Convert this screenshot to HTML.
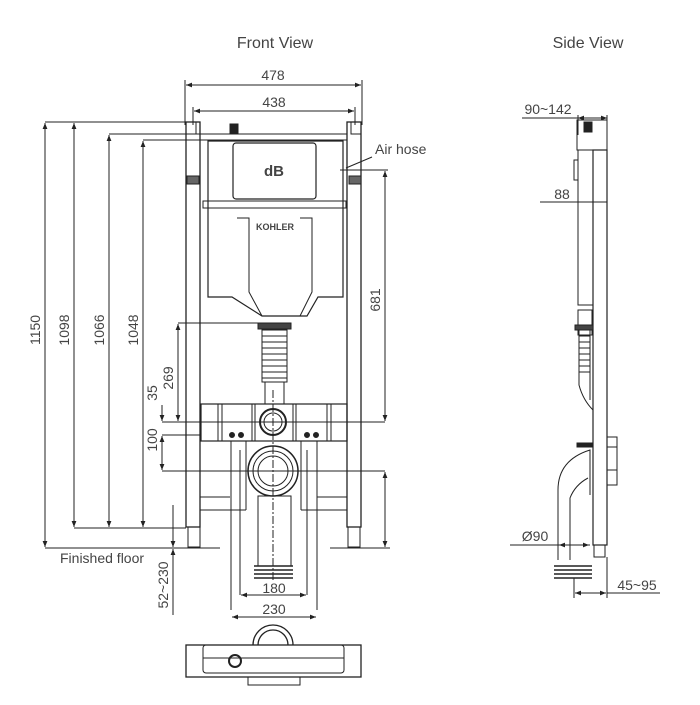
<!DOCTYPE html>
<html><head><style>
body{margin:0;background:#fff}
svg text{font-family:"Liberation Sans",sans-serif;fill:#444}
</style></head><body>
<svg width="700" height="700" viewBox="0 0 700 700" xmlns="http://www.w3.org/2000/svg">
<defs>
<marker id="a" viewBox="0 0 10 10" refX="10" refY="5" markerWidth="8" markerHeight="6" orient="auto-start-reverse"><path d="M0,1L10,5L0,9z" fill="#222"/></marker>
</defs>
<g stroke="#222" stroke-width="1" fill="none">
<text x="275" y="48" font-size="16" text-anchor="middle" stroke="none" fill="#555">Front View</text>
<text x="588" y="48" font-size="16" text-anchor="middle" stroke="none" fill="#555">Side View</text>
<!-- top dims -->
<line x1="185" y1="80" x2="185" y2="125"/><line x1="362" y1="80" x2="362" y2="125"/>
<line x1="186" y1="85" x2="361" y2="85" marker-start="url(#a)" marker-end="url(#a)"/>
<text x="273" y="80" font-size="14" text-anchor="middle" stroke="none">478</text>
<line x1="193" y1="107" x2="193" y2="125"/><line x1="355" y1="107" x2="355" y2="125"/>
<line x1="194" y1="111" x2="354" y2="111" marker-start="url(#a)" marker-end="url(#a)"/>
<text x="274" y="107" font-size="14" text-anchor="middle" stroke="none">438</text>
<!-- left verticals -->
<line x1="45" y1="122" x2="200" y2="122"/>
<line x1="109" y1="134" x2="230" y2="134"/>
<line x1="143" y1="140" x2="205" y2="140"/>
<line x1="45" y1="123" x2="45" y2="547" marker-start="url(#a)" marker-end="url(#a)"/>
<line x1="74" y1="123" x2="74" y2="527" marker-start="url(#a)"  marker-end="url(#a)"/>
<line x1="109" y1="135" x2="109" y2="527" marker-start="url(#a)" marker-end="url(#a)"/>
<line x1="143" y1="141" x2="143" y2="527" marker-start="url(#a)" marker-end="url(#a)"/>
<line x1="74" y1="528" x2="186" y2="528"/>
<line x1="45" y1="548" x2="220" y2="548"/>
<line x1="330" y1="548" x2="390" y2="548"/>
<g stroke="none" font-size="14">
<text transform="translate(44,330) rotate(-90)" text-anchor="middle" y="-4">1150</text>
<text transform="translate(73,330) rotate(-90)" text-anchor="middle" y="-4">1098</text>
<text transform="translate(108,330) rotate(-90)" text-anchor="middle" y="-4">1066</text>
<text transform="translate(142,330) rotate(-90)" text-anchor="middle" y="-4">1048</text>
<text transform="translate(177,378) rotate(-90)" text-anchor="middle" y="-4">269</text>
<text transform="translate(161,393) rotate(-90)" text-anchor="middle" y="-4">35</text>
<text transform="translate(161,440) rotate(-90)" text-anchor="middle" y="-4">100</text>
<text transform="translate(384,300) rotate(-90)" text-anchor="middle" y="-4">681</text>
<text transform="translate(172,585) rotate(-90)" text-anchor="middle" y="-4">52~230</text>
<text x="60" y="563">Finished floor</text>
<text x="375" y="154">Air hose</text>
<text x="274" y="593" text-anchor="middle">180</text>
<text x="274" y="614" text-anchor="middle">230</text>
</g>
<!-- 269,35,100 dims -->
<line x1="178" y1="323" x2="260" y2="323"/>
<line x1="178" y1="324" x2="178" y2="421" marker-start="url(#a)" marker-end="url(#a)"/>
<line x1="162" y1="422" x2="385" y2="422"/>
<line x1="162" y1="435" x2="200" y2="435"/>
<line x1="162" y1="471" x2="385" y2="471"/>
<line x1="162" y1="405" x2="162" y2="421" marker-end="url(#a)"/>
<line x1="162" y1="436" x2="162" y2="470" marker-start="url(#a)" marker-end="url(#a)"/>
<line x1="385" y1="171" x2="385" y2="421" marker-start="url(#a)" marker-end="url(#a)"/>
<line x1="340" y1="170" x2="388" y2="170"/>
<line x1="385" y1="472" x2="385" y2="547" marker-start="url(#a)" marker-end="url(#a)"/>
<line x1="173" y1="505" x2="173" y2="547" marker-end="url(#a)"/>
<line x1="173" y1="549" x2="173" y2="615" marker-start="url(#a)"/>
<line x1="346" y1="168" x2="372" y2="157"/>
<!-- frame -->
<rect x="186" y="122" width="14" height="405" stroke-width="1.3"/>
<rect x="347" y="122" width="14" height="405" stroke-width="1.3"/>
<rect x="188" y="527" width="12" height="20"/><rect x="348" y="527" width="12" height="20"/>
<rect x="200" y="134" width="147" height="6"/>
<rect x="230" y="124" width="8" height="9" fill="#222"/>
<rect x="186" y="122" width="10" height="12"/><rect x="351" y="122" width="10" height="12"/>
<rect x="187" y="176" width="12" height="8" fill="#666"/><rect x="349" y="176" width="12" height="8" fill="#666"/>
<!-- tank -->
<path d="M208,141H343V297H318L307,316H262L232,297H208Z" stroke-width="1.2"/>
<rect x="233" y="143" width="83" height="56" rx="3" stroke-width="1.2"/>
<text x="274" y="176" font-size="15" font-weight="bold" text-anchor="middle" stroke="none" fill="#222">dB</text>
<rect x="203" y="201" width="143" height="7"/>
<path d="M237,218H249V292L262,316M300,218H312V292L300,316"/>
<text x="275" y="230" font-size="9" font-weight="bold" text-anchor="middle" stroke="none" fill="#222">KOHLER</text>
<rect x="258" y="323" width="33" height="6" fill="#444"/>
<rect x="262" y="330" width="25" height="52"/>
<path d="M262,336H287M262,342H287M262,348H287M262,354H287M262,360H287M262,366H287M262,372H287M262,378H287"/>
<rect x="265" y="382" width="19" height="22"/>
<!-- crossbar -->
<rect x="201" y="404" width="146" height="37" stroke-width="1.2"/>
<path d="M218,404V441M222,404V441M252,404V441M255,404V441M293,404V441M296,404V441M327,404V441M331,404V441"/>
<circle cx="273" cy="422" r="13" stroke-width="2"/><circle cx="273" cy="422" r="9"/>
<circle cx="232" cy="435" r="2.5" fill="#222"/><circle cx="241" cy="435" r="2.5" fill="#222"/>
<circle cx="307" cy="435" r="2.5" fill="#222"/><circle cx="316" cy="435" r="2.5" fill="#222"/>
<!-- lower -->
<path d="M231,441V610M240,450V595M246,441V510M301,441V510M307,450V595M317,441V610"/>
<path d="M200,497H230M317,497H347M200,510H246M301,510H347"/>
<circle cx="273" cy="471" r="25" stroke-width="1.5"/><circle cx="273" cy="471" r="20"/><circle cx="273" cy="471" r="15"/>
<rect x="258" y="496" width="33" height="70"/>
<path d="M254,566H293M254,570H293M254,574H293M254,578H293" stroke-width="1.5"/>
<line x1="273" y1="390" x2="273" y2="580" stroke-dasharray="8,2,2,2"/>
<line x1="241" y1="595" x2="306" y2="595" marker-start="url(#a)" marker-end="url(#a)"/>
<line x1="232" y1="617" x2="316" y2="617" marker-start="url(#a)" marker-end="url(#a)"/>
<!-- bottom view -->
<path d="M253,645A20,20 0 0 1 293,645M258,645A15,15 0 0 1 288,645" stroke-width="1.3"/>
<rect x="186" y="645" width="175" height="32" stroke-width="1.3"/>
<rect x="203" y="645" width="141" height="28" rx="3"/>
<line x1="203" y1="658" x2="344" y2="658"/>
<circle cx="235" cy="661" r="6" stroke-width="2"/>
<rect x="248" y="677" width="52" height="8"/>
<!-- side view -->
<line x1="522" y1="118" x2="578" y2="118"/>
<line x1="578" y1="118" x2="607" y2="118" marker-start="url(#a)" marker-end="url(#a)"/>
<line x1="578" y1="115" x2="578" y2="135"/><line x1="607" y1="115" x2="607" y2="135"/>
<text x="548" y="114" font-size="14" text-anchor="middle" stroke="none">90~142</text>
<line x1="540" y1="202" x2="607" y2="202"/>
<text x="562" y="199" font-size="14" text-anchor="middle" stroke="none">88</text>
<rect x="577" y="120" width="30" height="30"/>
<rect x="584" y="122" width="8" height="10" fill="#222"/>
<rect x="593" y="150" width="14" height="395" stroke-width="1.2"/>
<rect x="594" y="545" width="11" height="12"/>
<rect x="578" y="150" width="15" height="155"/>
<rect x="574" y="160" width="4" height="20"/>
<path d="M578,310H592V335H578Z"/>
<rect x="575" y="325" width="18" height="5" fill="#444"/>
<path d="M579,330V385Q583,400 593,410M590,330V400"/>
<path d="M579,336H590M579,342H590M579,348H590M579,354H590M579,360H590M579,366H590M579,372H590"/>
<rect x="607" y="437" width="10" height="33"/>
<rect x="577" y="443" width="15" height="4" fill="#222"/>
<rect x="607" y="447" width="10" height="38"/>
<path d="M558,560V490Q558,460 590,450V495M570,560V498Q575,485 588,478"/>
<path d="M554,566H592M554,570H592M554,574H592M554,578H592" stroke-width="1.5"/>
<line x1="510" y1="545" x2="590" y2="545"/>
<line x1="559" y1="545" x2="589" y2="545" marker-start="url(#a)" marker-end="url(#a)"/>
<text x="535" y="541" font-size="14" text-anchor="middle" stroke="none">Ø90</text>
<line x1="574" y1="578" x2="574" y2="598"/><line x1="607" y1="557" x2="607" y2="598"/>
<line x1="575" y1="593" x2="606" y2="593" marker-start="url(#a)" marker-end="url(#a)"/>
<line x1="607" y1="593" x2="660" y2="593"/>
<text x="637" y="590" font-size="14" text-anchor="middle" stroke="none">45~95</text>
</g>
</svg>
</body></html>
